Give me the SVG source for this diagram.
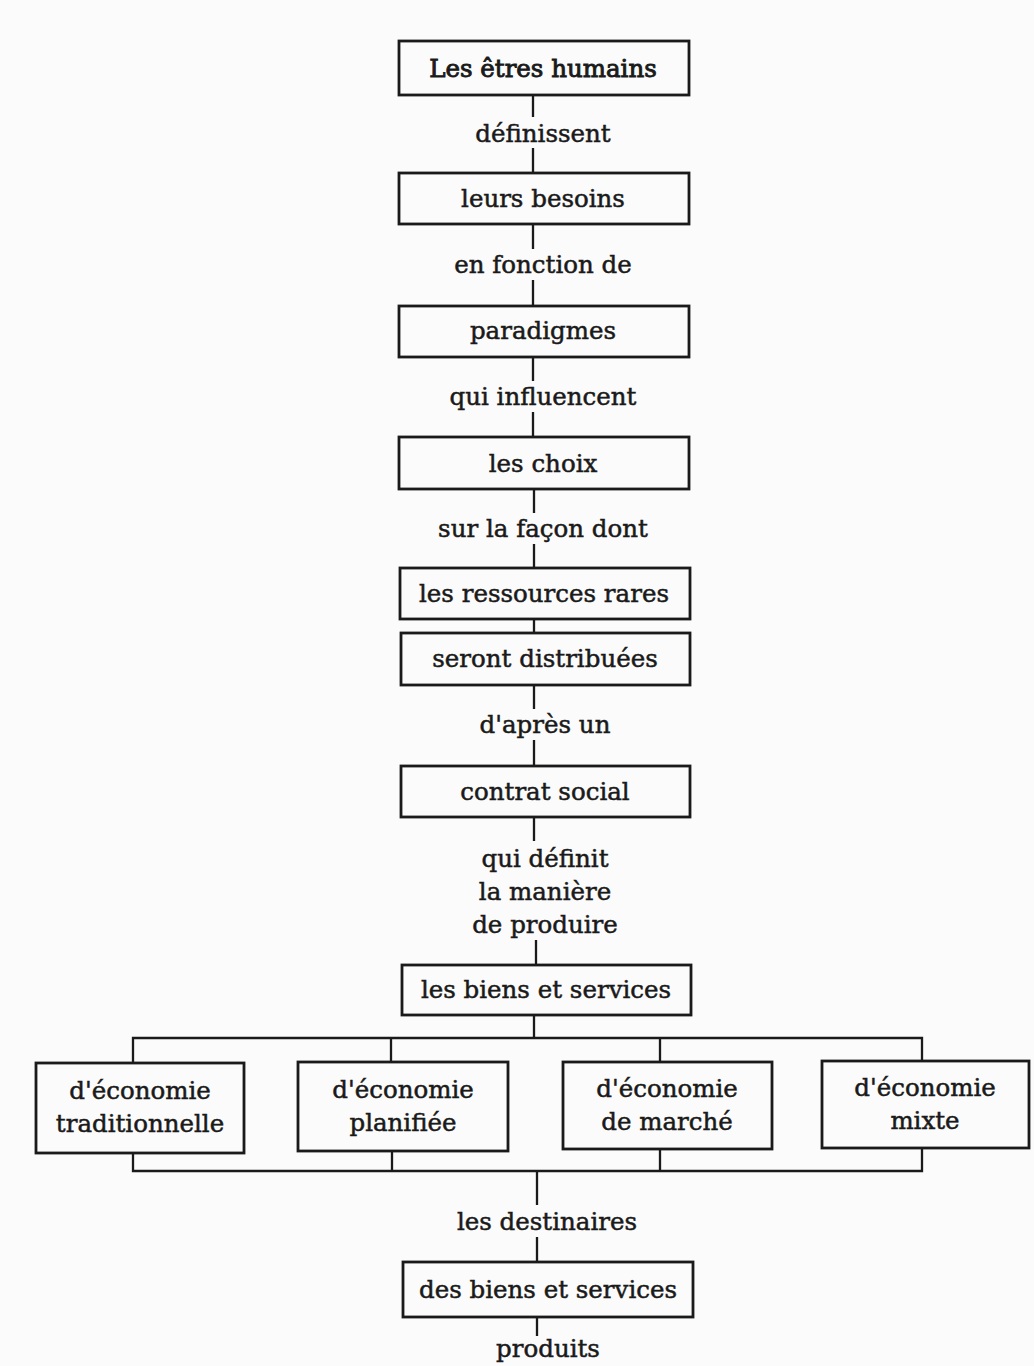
<svg xmlns="http://www.w3.org/2000/svg" width="1034" height="1366" viewBox="0 0 1034 1366">
<style>
.bg{fill:#fbfbfb}
.box{fill:none;stroke:#1a1a1a;stroke-width:2.8}
.ln{fill:none;stroke:#1a1a1a;stroke-width:2.3}
text{font-family:"DejaVu Serif","Liberation Serif",serif;font-size:24.5px;fill:#1a1a1a;stroke:#1a1a1a;stroke-width:0.5;text-anchor:middle}
.b{stroke-width:0.9}
</style>
<rect class="bg" x="0" y="0" width="1034" height="1366"/>
<g id="connectors">
<path class="ln" d="M533 95V117M533 148V173"/>
<path class="ln" d="M533 224V249M533 280V306"/>
<path class="ln" d="M533 357V381M533 412V437"/>
<path class="ln" d="M534 489V513M534 544V568"/>
<path class="ln" d="M534 619V633"/>
<path class="ln" d="M534 685V709M534 740V766"/>
<path class="ln" d="M534 817V841M536 940V965"/>
<path class="ln" d="M534 1015V1038"/>
<path class="ln" d="M133 1063V1038H922V1061M391 1038V1062M660 1038V1062"/>
<path class="ln" d="M133 1153V1171H922V1148M392 1151V1171M660 1149V1171"/>
<path class="ln" d="M537 1171V1205M537 1237V1262"/>
<path class="ln" d="M537 1317V1336"/>
</g>
<g id="n1"><rect class="box" x="399" y="41" width="290" height="54"/><text class="b" x="543" y="77">Les êtres humains</text></g>
<g id="l1"><text x="543" y="142">définissent</text></g>
<g id="n2"><rect class="box" x="399" y="173" width="290" height="51"/><text x="543" y="207">leurs besoins</text></g>
<g id="l2"><text x="543" y="273">en fonction de</text></g>
<g id="n3"><rect class="box" x="399" y="306" width="290" height="51"/><text x="543" y="339">paradigmes</text></g>
<g id="l3"><text x="543" y="405">qui influencent</text></g>
<g id="n4"><rect class="box" x="399" y="437" width="290" height="52"/><text x="543" y="472">les choix</text></g>
<g id="l4"><text x="543" y="537">sur la façon dont</text></g>
<g id="n5"><rect class="box" x="400" y="568" width="290" height="51"/><text x="544" y="602">les ressources rares</text></g>
<g id="n6"><rect class="box" x="401" y="633" width="289" height="52"/><text x="545" y="667">seront distribuées</text></g>
<g id="l5"><text x="545" y="733">d'après un</text></g>
<g id="n7"><rect class="box" x="401" y="766" width="289" height="51"/><text x="545" y="800">contrat social</text></g>
<g id="l6"><text x="545" y="867">qui définit</text><text x="545" y="900">la manière</text><text x="545" y="933">de produire</text></g>
<g id="n8"><rect class="box" x="402" y="965" width="289" height="50"/><text x="546" y="998">les biens et services</text></g>
<g id="nA"><rect class="box" x="36" y="1063" width="208" height="90"/><text x="140" y="1099">d'économie</text><text x="140" y="1132">traditionnelle</text></g>
<g id="nB"><rect class="box" x="298" y="1062" width="210" height="89"/><text x="403" y="1098">d'économie</text><text x="403" y="1131">planifiée</text></g>
<g id="nC"><rect class="box" x="563" y="1062" width="209" height="87"/><text x="667" y="1097">d'économie</text><text x="667" y="1130">de marché</text></g>
<g id="nD"><rect class="box" x="822" y="1061" width="207" height="87"/><text x="925" y="1096">d'économie</text><text x="925" y="1129">mixte</text></g>
<g id="l7"><text x="547" y="1230">les destinaires</text></g>
<g id="n9"><rect class="box" x="403" y="1262" width="290" height="55"/><text x="548" y="1298">des biens et services</text></g>
<g id="l8"><text x="548" y="1357">produits</text></g>
</svg>
